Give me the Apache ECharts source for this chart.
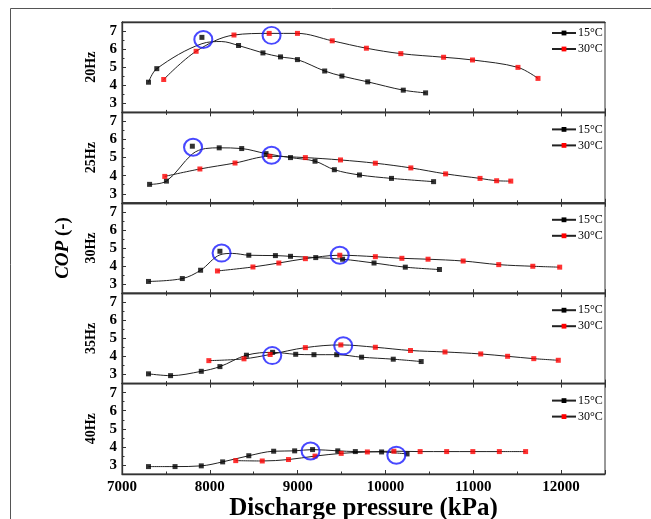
<!DOCTYPE html>
<html>
<head>
<meta charset="utf-8">
<script src="https://cdn.jsdelivr.net/npm/echarts@6/dist/echarts.min.js"></script>
<style>html,body{margin:0;padding:0;background:#fff;}#c{width:651px;height:519px;}</style>
</head>
<body>
<div id="c"></div>
<script>
// ---- data ----
const panelNames = ['20Hz', '25Hz', '30Hz', '35Hz', '40Hz'];
const seriesNames = ['15°C', '30°C'];
const xLabels = [7000, 8000, 9000, 10000, 11000, 12000];
const yTicks = [3, 4, 5, 6, 7];
const yMinorTicks = [3.5, 4.5, 5.5, 6.5];

const hz20_15 = [[7302,4.17],[7396,4.92],[7910,6.65],[8327,6.20],[8605,5.79],[8805,5.57],[8998,5.42],[9308,4.79],[9504,4.51],[9798,4.19],[10203,3.73],[10457,3.58]];
const hz20_15_fit = [[7302,4.17],[7396,4.92],[7910,6.30],[8130,6.42],[8327,6.20],[8605,5.79],[8805,5.57],[8998,5.42],[9308,4.79],[9504,4.51],[9798,4.19],[10203,3.73],[10457,3.58]];
const hz20_30 = [[7475,4.32],[7844,5.88],[8275,6.78],[8676,6.87],[8998,6.87],[9394,6.46],[9783,6.05],[10175,5.75],[10662,5.55],[10991,5.40],[11509,4.99],[11737,4.38]];

const hz25_15 = [[7314,3.52],[7506,3.70],[7801,5.63],[8107,5.54],[8363,5.50],[8640,5.22],[8919,5.00],[9198,4.80],[9418,4.33],[9704,4.04],[10069,3.85],[10548,3.67]];
const hz25_15_fit = [[7314,3.52],[7506,3.70],[7801,5.20],[7950,5.50],[8107,5.54],[8363,5.50],[8640,5.22],[8919,5.00],[9198,4.80],[9418,4.33],[9704,4.04],[10069,3.85],[10548,3.67]];
const hz25_30 = [[7487,3.96],[7887,4.37],[8287,4.70],[8684,5.07],[9088,5.00],[9488,4.87],[9885,4.69],[10289,4.43],[10685,4.10],[11077,3.85],[11266,3.72],[11427,3.70]];

const hz30_15 = [[7302,3.15],[7687,3.31],[7895,3.77],[8115,4.82],[8444,4.60],[8747,4.58],[8919,4.54],[9206,4.47],[9512,4.38],[9870,4.17],[10226,3.94],[10615,3.81]];
const hz30_15_fit = [[7302,3.15],[7687,3.31],[7895,3.77],[8115,4.62],[8260,4.70],[8444,4.60],[8747,4.58],[8919,4.54],[9206,4.47],[9512,4.38],[9870,4.17],[10226,3.94],[10615,3.81]];
const hz30_30 = [[8087,3.73],[8491,3.95],[8786,4.17],[9088,4.41],[9480,4.60],[9885,4.52],[10187,4.43],[10485,4.38],[10885,4.28],[11290,4.08],[11678,3.99],[11984,3.94]];

const hz35_15 = [[7302,3.04],[7553,2.94],[7903,3.18],[8115,3.44],[8417,4.07],[8715,4.23],[8978,4.12],[9186,4.10],[9445,4.10],[9728,3.96],[10089,3.85],[10407,3.72]];
const hz35_30 = [[7989,3.77],[8389,3.87],[8687,4.11],[9088,4.49],[9492,4.64],[9885,4.51],[10285,4.33],[10678,4.25],[11085,4.14],[11391,4.01],[11689,3.88],[11968,3.79]];

const hz40_15 = [[7302,2.91],[7604,2.91],[7903,2.95],[8146,3.17],[8444,3.51],[8727,3.76],[8966,3.78],[9170,3.85],[9457,3.78],[9657,3.74],[9956,3.72],[10246,3.61]];
const hz40_30 = [[8295,3.24],[8597,3.22],[8896,3.30],[9198,3.49],[9496,3.64],[9794,3.72],[10096,3.76],[10395,3.74],[10697,3.74],[10995,3.74],[11297,3.74],[11596,3.74]];

// highlighted optimum points (blue circles)
const circles20 = [[7926,6.53],[8703,6.76]];
const circles25 = [[7809,5.57],[8703,5.13]];
const circles30 = [[8134,4.72],[9480,4.60]];
const circles35 = [[8711,4.05],[9519,4.59]];
const circles40 = [[9147,3.77],[10124,3.54]];

const pts15 = [hz20_15, hz25_15, hz30_15, hz35_15, hz40_15];
const fit15 = [hz20_15_fit, hz25_15_fit, hz30_15_fit, hz35_15, hz40_15];
const pts30 = [hz20_30, hz25_30, hz30_30, hz35_30, hz40_30];
const circles = [circles20, circles25, circles30, circles35, circles40];

// ---- layout / style ----
const FONT = 'Liberation Serif';
const AX = '#333';
const gridTop = 22, panelH = 90.4, gridLeft = 122, gridRight = 46;
const legendOffsets = [5, 11, 11, 11, 11];

const chart = echarts.init(document.getElementById('c'), null, {renderer: 'canvas'});
const grid = [], xAxis = [], yAxis = [], series = [], legend = [];

for (let i = 0; i < 5; i++) {
  const top = gridTop + i * panelH;
  grid.push({left: gridLeft, right: gridRight, top: top, height: panelH,
             outerBoundsMode: 'none', containLabel: false,
             show: true, borderColor: AX, borderWidth: 1, backgroundColor: 'transparent'});
  const last = i === 4;
  xAxis.push({
    type: 'value', gridIndex: i, min: 7000, max: 12500, interval: 1000, position: 'bottom',
    axisLine: {show: true, onZero: false, lineStyle: {color: AX, width: 1.3}},
    axisTick: {show: true, inside: true, length: 4, lineStyle: {color: AX}},
    minorTick: {show: true, splitNumber: 2, length: 2.5, lineStyle: {color: AX}},
    splitLine: {show: false}, minorSplitLine: {show: false},
    axisLabel: {show: last, customValues: xLabels, formatter: v => String(v),
      fontFamily: FONT, fontWeight: 'bold', fontSize: 15, color: '#000', margin: 6},
    name: last ? 'Discharge pressure (kPa)' : '',
    nameLocation: 'middle', nameGap: 20,
    nameTextStyle: {fontFamily: FONT, fontWeight: 'bold', fontSize: 25, color: '#000', verticalAlign: 'top'}
  });
  xAxis.push({
    type: 'value', gridIndex: i, min: 7000, max: 12500, interval: 1000, position: 'top',
    axisLine: {show: true, onZero: false, lineStyle: {color: AX, width: 1.3}},
    axisTick: {show: i > 0, inside: true, length: 4, lineStyle: {color: AX}},
    minorTick: {show: i > 0, splitNumber: 2, length: 2.5, lineStyle: {color: AX}},
    splitLine: {show: false}, axisLabel: {show: false}
  });
  yAxis.push({
    type: 'value', gridIndex: i, min: 2.5, max: 7.5, position: 'left',
    axisLine: {show: true, onZero: false, lineStyle: {color: AX, width: 1.3}},
    axisTick: {show: true, inside: true, length: 4, customValues: yTicks, lineStyle: {color: AX}},
    splitLine: {show: false},
    axisLabel: {show: true, customValues: yTicks, hideOverlap: false, fontFamily: FONT, fontWeight: 'bold', fontSize: 15, color: '#000', margin: 5},
    name: panelNames[i], nameLocation: 'middle', nameGap: 20, nameRotate: 90,
    nameTextStyle: {fontFamily: FONT, fontWeight: 'bold', fontSize: 14, color: '#000'}
  });
  yAxis.push({
    type: 'value', gridIndex: i, min: 2.5, max: 7.5, position: 'left',
    axisLine: {show: false},
    axisTick: {show: true, inside: true, length: 2.5, customValues: yMinorTicks, lineStyle: {color: AX}},
    splitLine: {show: false}, axisLabel: {show: false}
  });
  const xi = i * 2, yi = i * 2;
  series.push({
    name: seriesNames[0], type: 'line', xAxisIndex: xi, yAxisIndex: yi, data: fit15[i],
    smooth: 0.35, showSymbol: false, symbol: 'rect', symbolSize: 5,
    lineStyle: {color: '#222', width: 1}, itemStyle: {color: '#000'}, z: 2, silent: true
  });
  series.push({
    name: seriesNames[1], type: 'line', xAxisIndex: xi, yAxisIndex: yi, data: pts30[i],
    smooth: 0.35, showSymbol: false, symbol: 'rect', symbolSize: 5,
    lineStyle: {color: '#222', width: 1}, itemStyle: {color: '#ff0000'}, z: 2, silent: true
  });
  series.push({
    name: seriesNames[0], type: 'scatter', xAxisIndex: xi, yAxisIndex: yi, data: pts15[i],
    symbol: 'rect', symbolSize: 5, itemStyle: {color: '#000'}, z: 3, silent: true
  });
  series.push({
    name: seriesNames[1], type: 'scatter', xAxisIndex: xi, yAxisIndex: yi, data: pts30[i],
    symbol: 'rect', symbolSize: 5, itemStyle: {color: '#ff0000'}, z: 3, silent: true
  });
  series.push({
    name: 'opt', type: 'scatter', xAxisIndex: xi, yAxisIndex: yi, data: circles[i],
    symbol: 'circle', symbolSize: [18, 17],
    itemStyle: {color: 'rgba(0,0,0,0)', borderColor: '#1a1aff', borderWidth: 2}, z: 4, silent: true
  });
  legend.push({
    data: seriesNames, orient: 'vertical', left: 551, top: top + legendOffsets[i],
    itemWidth: 24, itemHeight: 6, itemGap: 4, selectedMode: false,
    textStyle: {fontFamily: FONT, fontSize: 12, color: '#000', lineHeight: 12, padding: [0,0,0,-3]},
    padding: 0
  });
}

const option = {
  animation: false,
  backgroundColor: '#fff',
  grid, xAxis, yAxis, series, legend,
  graphic: [
    {type: 'rect', left: 8, top: 6, shape: {x: 0, y: 0, width: 700, height: 600},
     style: {fill: 'none', stroke: '#555', lineWidth: 1}, silent: true},
    {type: 'text', x: 63, y: 248, rotation: Math.PI / 2,
     style: {text: '{i|COP} {b|(-)}', align: 'center', verticalAlign: 'middle',
       rich: {
         i: {fontFamily: FONT, fontWeight: 'bold', fontStyle: 'italic', fontSize: 19, fill: '#000'},
         b: {fontFamily: FONT, fontWeight: 'bold', fontSize: 19, fill: '#000'}
       },
       fontFamily: FONT, fontWeight: 'bold', fontSize: 19, fill: '#000'}}
  ]
};
chart.setOption(option);
</script>
</body>
</html>
